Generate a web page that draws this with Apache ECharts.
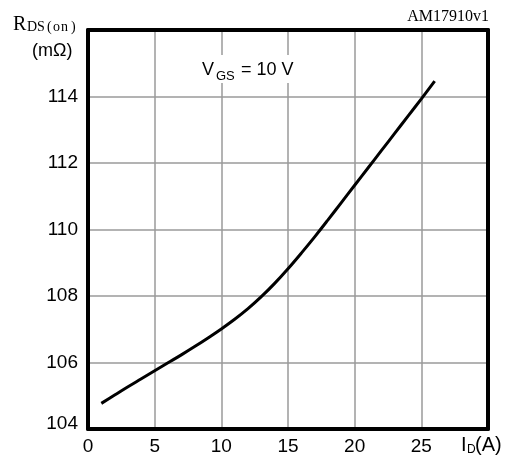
<!DOCTYPE html>
<html>
<head>
<meta charset="utf-8">
<script src="https://cdn.jsdelivr.net/npm/echarts@6/dist/echarts.min.js"></script>
<style>
  html, body { margin: 0; padding: 0; background: #fff; }
  #chart { width: 511px; height: 459px; }
</style>
</head>
<body>
<div id="chart"></div>
<script>
// Drain current I_D (A) and static drain-source on-resistance (mΩ) at V_GS = 10 V
const drainCurrent = [1, 2, 3, 4, 5, 6, 7, 8, 9, 10, 11, 12, 13, 14, 15, 16, 17, 18, 19, 20, 21, 22, 23, 24, 25, 26];
const rdsOn = [104.77, 105.02, 105.27, 105.51, 105.75, 105.99, 106.23, 106.48, 106.74, 107.01,
               107.30, 107.62, 107.98, 108.38, 108.82, 109.29, 109.78, 110.29, 110.81, 111.33,
               111.85, 112.37, 112.89, 113.41, 113.93, 114.46];

const xTicks = { min: 0, max: 30, interval: 5 };
const yTicks = { min: 104, max: 116, interval: 2 };

const chart = echarts.init(document.getElementById('chart'));

const SANS = '"Liberation Sans", Arial, sans-serif';
const SERIF = '"Liberation Serif", "Times New Roman", serif';
const tickFont = { fontFamily: SANS, fontSize: 19, color: '#000' };
const frameLine = { show: true, onZero: false, lineStyle: { color: '#000', width: 4 } };
const gridLine = { show: true, lineStyle: { color: '#9a9a9a', width: 1.5 } };

function txt(left, top, text, font) {
  return { type: 'text', left: left, top: top, z: 11, style: { text: text, font: font, fill: '#000' } };
}

chart.setOption({
  animation: false,
  backgroundColor: '#fff',
  grid: { left: 88, right: 23, top: 30, bottom: 30 },
  xAxis: [{
    type: 'value',
    min: xTicks.min, max: xTicks.max, interval: xTicks.interval,
    axisLine: frameLine,
    axisTick: { show: false },
    splitLine: Object.assign({ showMinLine: false, showMaxLine: false }, gridLine),
    axisLabel: Object.assign({
      margin: 8,
      formatter: v => (v === xTicks.max ? '' : String(v))
    }, tickFont)
  }, {
    type: 'value', position: 'top',
    min: xTicks.min, max: xTicks.max,
    axisLine: frameLine, axisTick: { show: false },
    axisLabel: { show: false }, splitLine: { show: false }
  }],
  yAxis: [{
    type: 'value',
    min: yTicks.min, max: yTicks.max, interval: yTicks.interval,
    axisLine: frameLine,
    axisTick: { show: false },
    splitLine: Object.assign({ showMinLine: false, showMaxLine: false }, gridLine),
    axisLabel: Object.assign({
      margin: 10,
      formatter: v => (v === yTicks.max ? '' : (v === yTicks.min ? '{lo|' + v + '}' : String(v))),
      rich: { lo: { fontFamily: SANS, fontSize: 19, color: '#000', padding: [0, 0, 10, 0] } }
    }, tickFont)
  }, {
    type: 'value', position: 'right',
    min: yTicks.min, max: yTicks.max,
    axisLine: frameLine, axisTick: { show: false },
    axisLabel: { show: false }, splitLine: { show: false }
  }],
  series: [{
    type: 'line',
    data: drainCurrent.map((x, i) => [x, rdsOn[i]]),
    smooth: 0.4,
    showSymbol: false,
    lineStyle: { color: '#000', width: 3 },
    z: 3
  }],
  graphic: [
    // white patch behind the condition label so the grid is interrupted
    { type: 'rect', left: 199, top: 55, shape: { width: 103, height: 28 }, style: { fill: '#fff' }, z: 10 },
    txt(202, 61, 'V', '18px ' + SANS),
    txt(216, 70, 'GS', '13px ' + SANS),
    txt(241, 61, '= 10 V', '18px ' + SANS),
    // y-axis title
    txt(13, 15, 'R', '20px ' + SERIF),
    txt(27, 20, 'DS', '14px ' + SERIF),
    txt(47, 20, '(', '14px ' + SERIF),
    txt(53, 20, 'o', '14px ' + SERIF),
    txt(61, 20, 'n', '14px ' + SERIF),
    txt(71, 20, ')', '14px ' + SERIF),
    txt(32, 42, '(mΩ)', '18px ' + SANS),
    // x-axis title
    txt(461, 435, 'I', '20px ' + SANS),
    txt(467, 444, 'D', '12px ' + SANS),
    txt(475, 435, '(A)', '20px ' + SANS),
    // drawing reference code
    { type: 'text', right: 22, top: 9, z: 11,
      style: { text: 'AM17910v1', font: '16px ' + SERIF, fill: '#000' } }
  ]
});
</script>
</body>
</html>
